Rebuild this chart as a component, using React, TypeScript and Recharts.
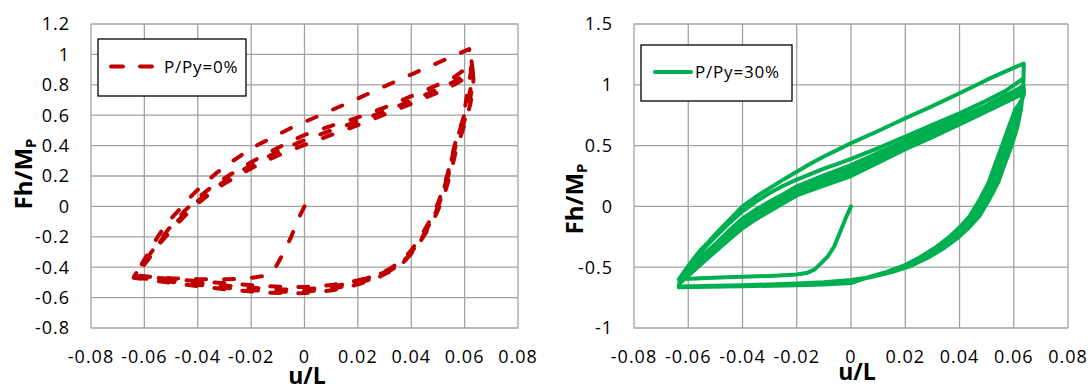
import { LineChart, Line, XAxis, YAxis, CartesianGrid, Customized } from "recharts"

type Pt = [number, number]

// shared horizontal axis (drift ratio u/L)
const uTicks = [-0.08, -0.06, -0.04, -0.02, 0, 0.02, 0.04, 0.06, 0.08]
const p0Ticks = [-0.8, -0.6, -0.4, -0.2, 0, 0.2, 0.4, 0.6, 0.8, 1, 1.2]
const p30Ticks = [-1, -0.5, 0, 0.5, 1, 1.5]

// P/Py = 0% : monotonic push, then four cycles
const p0Initial: Pt[] = [
  [0, 0], [-0.002, -0.07], [-0.005, -0.2], [-0.008, -0.31], [-0.0105, -0.39], [-0.0125, -0.43],
  [-0.016, -0.46], [-0.022, -0.475], [-0.03, -0.48], [-0.04, -0.478], [-0.05, -0.472],
  [-0.058, -0.463], [-0.0635, -0.452],
]
const p0Up1: Pt[] = [
  [-0.0635, -0.452], [-0.061, -0.38], [-0.058, -0.29], [-0.055, -0.2], [-0.052, -0.12], [-0.0495, -0.07],
  [-0.0475, -0.033], [-0.044, 0.04], [-0.04, 0.11], [-0.0365, 0.165], [-0.033, 0.22], [-0.028, 0.285],
  [-0.0226, 0.35], [-0.018, 0.4], [-0.0135, 0.44], [-0.008, 0.49], [-0.004, 0.525], [0, 0.555],
  [0.01, 0.632], [0.02, 0.71], [0.03, 0.79], [0.04, 0.868], [0.05, 0.945], [0.0617, 1.035],
]
const p0Down1: Pt[] = [
  [0.0617, 1.035], [0.0624, 0.96], [0.0623, 0.88], [0.0612, 0.77], [0.0604, 0.68], [0.0597, 0.59],
  [0.0582, 0.5], [0.0563, 0.4], [0.0553, 0.32], [0.0542, 0.24], [0.0525, 0.13], [0.0507, 0.03],
  [0.0485, -0.07], [0.046, -0.15], [0.0435, -0.22], [0.0405, -0.3], [0.037, -0.36], [0.033, -0.41],
  [0.029, -0.44], [0.024, -0.47], [0.018, -0.495], [0.011, -0.515], [0.004, -0.528], [0, -0.53],
  [-0.006, -0.53], [-0.014, -0.525], [-0.022, -0.515], [-0.03, -0.505], [-0.04, -0.492],
  [-0.05, -0.478], [-0.058, -0.467], [-0.0638, -0.458],
]
const p0Up2: Pt[] = [
  [-0.0638, -0.458], [-0.0615, -0.4], [-0.059, -0.34], [-0.0565, -0.28], [-0.054, -0.22], [-0.051, -0.15],
  [-0.048, -0.09], [-0.045, -0.03], [-0.0425, 0.01], [-0.04, 0.055], [-0.035, 0.125], [-0.03, 0.185],
  [-0.025, 0.24], [-0.02, 0.29], [-0.015, 0.34], [-0.01, 0.385], [-0.005, 0.43], [0, 0.47],
  [0.01, 0.53], [0.02, 0.585], [0.03, 0.65], [0.04, 0.725], [0.05, 0.8], [0.056, 0.85], [0.06, 0.9],
  [0.0625, 0.97],
]
const p0Down2: Pt[] = [
  [0.0625, 0.97], [0.063, 0.9], [0.0627, 0.82], [0.0618, 0.74], [0.0607, 0.66], [0.0595, 0.58],
  [0.0578, 0.49], [0.0562, 0.4], [0.055, 0.31], [0.0537, 0.22], [0.052, 0.12], [0.05, 0.02],
  [0.048, -0.06], [0.0455, -0.14], [0.043, -0.21], [0.04, -0.29], [0.0365, -0.355], [0.0325, -0.405],
  [0.028, -0.445], [0.023, -0.475], [0.017, -0.505], [0.01, -0.528], [0.004, -0.54], [0, -0.545],
  [-0.006, -0.547], [-0.014, -0.542], [-0.022, -0.532], [-0.03, -0.52], [-0.04, -0.503],
  [-0.05, -0.487], [-0.058, -0.473], [-0.0638, -0.462],
]
const p0Up3: Pt[] = [
  [-0.0638, -0.462], [-0.0615, -0.41], [-0.059, -0.35], [-0.0565, -0.29], [-0.054, -0.23], [-0.051, -0.165],
  [-0.048, -0.105], [-0.045, -0.05], [-0.0425, -0.01], [-0.04, 0.035], [-0.035, 0.105], [-0.03, 0.165],
  [-0.025, 0.22], [-0.02, 0.27], [-0.015, 0.315], [-0.01, 0.36], [-0.005, 0.4], [0, 0.435],
  [0.01, 0.5], [0.02, 0.56], [0.03, 0.625], [0.04, 0.695], [0.05, 0.77], [0.056, 0.82], [0.06, 0.865],
  [0.0628, 0.93],
]
const p0Down3: Pt[] = [
  [0.0628, 0.93], [0.0632, 0.86], [0.0628, 0.78], [0.062, 0.7], [0.0609, 0.62], [0.0597, 0.55],
  [0.058, 0.47], [0.0565, 0.39], [0.0553, 0.3], [0.054, 0.21], [0.0523, 0.11], [0.0503, 0.01],
  [0.0483, -0.07], [0.0458, -0.15], [0.0432, -0.22], [0.0402, -0.3], [0.0368, -0.365], [0.0328, -0.415],
  [0.0283, -0.455], [0.0232, -0.488], [0.0172, -0.518], [0.01, -0.542], [0.004, -0.555], [0, -0.56],
  [-0.006, -0.562], [-0.014, -0.557], [-0.022, -0.547], [-0.03, -0.535], [-0.04, -0.515],
  [-0.05, -0.496], [-0.058, -0.478], [-0.0638, -0.465],
]
const p0Up4: Pt[] = [
  [-0.0638, -0.465], [-0.0615, -0.415], [-0.059, -0.36], [-0.0565, -0.3], [-0.054, -0.24], [-0.051, -0.18],
  [-0.048, -0.12], [-0.045, -0.065], [-0.0425, -0.025], [-0.04, 0.02], [-0.035, 0.09], [-0.03, 0.15],
  [-0.025, 0.2], [-0.02, 0.25], [-0.015, 0.295], [-0.01, 0.335], [-0.005, 0.37], [0, 0.405],
  [0.01, 0.47], [0.02, 0.535], [0.03, 0.605], [0.04, 0.675], [0.05, 0.75], [0.056, 0.8], [0.06, 0.84],
  [0.063, 0.9],
]
const p0Down4: Pt[] = [
  [0.063, 0.9], [0.0633, 0.83], [0.0629, 0.75], [0.0621, 0.67], [0.061, 0.6], [0.0598, 0.53],
  [0.0583, 0.45], [0.0568, 0.37], [0.0556, 0.28], [0.0543, 0.19], [0.0526, 0.09], [0.0506, 0.0],
  [0.0486, -0.08], [0.046, -0.16], [0.0434, -0.23], [0.0404, -0.305], [0.037, -0.37], [0.033, -0.42],
  [0.0285, -0.46], [0.0235, -0.495], [0.0175, -0.525], [0.0105, -0.552], [0.004, -0.566], [0, -0.57],
  [-0.006, -0.572], [-0.014, -0.567], [-0.022, -0.557], [-0.03, -0.545], [-0.04, -0.525],
  [-0.05, -0.503], [-0.058, -0.484], [-0.064, -0.47],
]

// P/Py = 30% : monotonic push, then seven cycles
const p30Initial: Pt[] = [
  [0, 0], [-0.002, -0.1], [-0.0042, -0.22], [-0.0062, -0.33], [-0.0085, -0.41], [-0.011, -0.466],
  [-0.0135, -0.52], [-0.016, -0.545], [-0.02, -0.56], [-0.028, -0.57], [-0.037, -0.577],
  [-0.046, -0.583], [-0.0554, -0.59], [-0.0635, -0.6],
]
const p30Up1: Pt[] = [
  [-0.0635, -0.6], [-0.061, -0.52], [-0.058, -0.43], [-0.0555, -0.36], [-0.0529, -0.3], [-0.05, -0.23],
  [-0.047, -0.16], [-0.0435, -0.08], [-0.04, 0.0], [-0.035, 0.08], [-0.03, 0.15], [-0.025, 0.22],
  [-0.02, 0.285], [-0.015, 0.35], [-0.01, 0.41], [-0.005, 0.465], [0, 0.52], [0.01, 0.62],
  [0.02, 0.725], [0.03, 0.825], [0.04, 0.93], [0.05, 1.04], [0.057, 1.11], [0.0637, 1.175],
]
const p30Down1: Pt[] = [
  [0.0637, 1.175], [0.0636, 1.06], [0.0634, 0.95], [0.0627, 0.8], [0.0613, 0.65], [0.0592, 0.5],
  [0.0567, 0.35], [0.0543, 0.2], [0.0508, 0.05], [0.0473, -0.08], [0.0432, -0.18], [0.0398, -0.25],
  [0.0345, -0.34], [0.0285, -0.42], [0.022, -0.49], [0.015, -0.54], [0.0078, -0.58], [0, -0.605],
  [-0.01, -0.624], [-0.02, -0.635], [-0.04, -0.648], [-0.0635, -0.658],
]
const p30Up2: Pt[] = [
  [-0.0635, -0.658], [-0.063, -0.6], [-0.06, -0.52], [-0.057, -0.42], [-0.054, -0.34], [-0.05, -0.25],
  [-0.045, -0.14], [-0.04, -0.04], [-0.035, 0.04], [-0.03, 0.11], [-0.025, 0.17], [-0.02, 0.22],
  [-0.015, 0.265], [-0.01, 0.31], [-0.005, 0.35], [0, 0.39], [0.01, 0.48], [0.02, 0.575],
  [0.03, 0.67], [0.04, 0.765], [0.05, 0.87], [0.057, 0.95], [0.0634, 1.05],
]
const p30Down2: Pt[] = [
  [0.0634, 1.05], [0.0636, 0.98], [0.0632, 0.9], [0.0623, 0.8], [0.0608, 0.65], [0.0586, 0.5],
  [0.0561, 0.35], [0.0537, 0.2], [0.0502, 0.05], [0.0467, -0.08], [0.0426, -0.18], [0.0392, -0.25],
  [0.0339, -0.34], [0.028, -0.42], [0.0215, -0.49], [0.0146, -0.54], [0.0076, -0.58], [0, -0.61],
  [-0.01, -0.627], [-0.02, -0.637], [-0.04, -0.65], [-0.0635, -0.659],
]
const p30Up3: Pt[] = [
  [-0.0635, -0.659], [-0.063, -0.61], [-0.06, -0.53], [-0.055, -0.41], [-0.05, -0.31], [-0.045, -0.2],
  [-0.04, -0.1], [-0.035, -0.025], [-0.03, 0.04], [-0.025, 0.1], [-0.02, 0.165], [-0.01, 0.255],
  [0, 0.34], [0.01, 0.44], [0.02, 0.54], [0.03, 0.64], [0.04, 0.73], [0.05, 0.83], [0.0636, 0.99],
]
const p30Down3: Pt[] = [
  [0.0636, 0.99], [0.0634, 0.92], [0.062, 0.8], [0.0602, 0.65], [0.058, 0.5], [0.0555, 0.35],
  [0.0531, 0.2], [0.0496, 0.05], [0.0461, -0.08], [0.042, -0.18], [0.0386, -0.25], [0.0333, -0.34],
  [0.0274, -0.42], [0.021, -0.49], [0.0143, -0.54], [0.0074, -0.58], [0, -0.614], [-0.01, -0.63],
  [-0.02, -0.64], [-0.04, -0.651], [-0.0635, -0.66],
]
const p30Up4: Pt[] = [
  [-0.0635, -0.66], [-0.063, -0.615], [-0.06, -0.54], [-0.055, -0.425], [-0.05, -0.325], [-0.045, -0.22],
  [-0.04, -0.12], [-0.035, -0.045], [-0.03, 0.02], [-0.025, 0.08], [-0.02, 0.145], [-0.01, 0.23],
  [0, 0.315], [0.01, 0.42], [0.02, 0.52], [0.03, 0.62], [0.04, 0.715], [0.05, 0.815], [0.0637, 0.97],
]
const p30Down4: Pt[] = [
  [0.0637, 0.97], [0.0633, 0.9], [0.0616, 0.8], [0.0597, 0.65], [0.0574, 0.5], [0.0549, 0.35],
  [0.0525, 0.2], [0.049, 0.05], [0.0455, -0.08], [0.0414, -0.18], [0.038, -0.25], [0.0327, -0.34],
  [0.0269, -0.42], [0.0206, -0.49], [0.0139, -0.54], [0.0073, -0.58], [0, -0.618], [-0.01, -0.633],
  [-0.02, -0.642], [-0.04, -0.653], [-0.0635, -0.661],
]
const p30Up5: Pt[] = [
  [-0.0635, -0.661], [-0.063, -0.62], [-0.06, -0.55], [-0.055, -0.44], [-0.05, -0.34], [-0.045, -0.24],
  [-0.04, -0.14], [-0.035, -0.065], [-0.03, 0.0], [-0.025, 0.06], [-0.02, 0.125], [-0.01, 0.21],
  [0, 0.29], [0.01, 0.395], [0.02, 0.5], [0.03, 0.6], [0.04, 0.7], [0.05, 0.8], [0.0638, 0.955],
]
const p30Down5: Pt[] = [
  [0.0638, 0.955], [0.0632, 0.89], [0.0613, 0.8], [0.0591, 0.65], [0.0568, 0.5], [0.0543, 0.35],
  [0.0519, 0.2], [0.0484, 0.05], [0.0449, -0.08], [0.0408, -0.18], [0.0374, -0.25], [0.0321, -0.34],
  [0.0263, -0.42], [0.0201, -0.49], [0.0136, -0.54], [0.0071, -0.58], [0, -0.622], [-0.01, -0.636],
  [-0.02, -0.644], [-0.04, -0.654], [-0.0635, -0.662],
]
const p30Up6: Pt[] = [
  [-0.0635, -0.662], [-0.063, -0.625], [-0.06, -0.56], [-0.055, -0.455], [-0.05, -0.355], [-0.045, -0.26],
  [-0.04, -0.16], [-0.035, -0.085], [-0.03, -0.02], [-0.025, 0.045], [-0.02, 0.11], [-0.01, 0.19],
  [0, 0.27], [0.01, 0.38], [0.02, 0.485], [0.03, 0.585], [0.04, 0.69], [0.05, 0.79], [0.0638, 0.94],
]
const p30Down6: Pt[] = [
  [0.0638, 0.94], [0.0631, 0.88], [0.0609, 0.8], [0.0586, 0.65], [0.0562, 0.5], [0.0537, 0.35],
  [0.0513, 0.2], [0.0478, 0.05], [0.0443, -0.08], [0.0402, -0.18], [0.0368, -0.25], [0.0315, -0.34],
  [0.0258, -0.42], [0.0196, -0.49], [0.0132, -0.54], [0.0069, -0.58], [0, -0.626], [-0.01, -0.639],
  [-0.02, -0.646], [-0.04, -0.656], [-0.0635, -0.663],
]
const p30Up7: Pt[] = [
  [-0.0635, -0.663], [-0.063, -0.63], [-0.06, -0.57], [-0.055, -0.47], [-0.05, -0.37], [-0.045, -0.275],
  [-0.04, -0.18], [-0.035, -0.105], [-0.03, -0.04], [-0.025, 0.025], [-0.02, 0.09], [-0.01, 0.17],
  [0, 0.25], [0.01, 0.36], [0.02, 0.47], [0.03, 0.57], [0.04, 0.675], [0.05, 0.78], [0.0638, 0.93],
]
const p30Down7: Pt[] = [
  [0.0638, 0.93], [0.063, 0.87], [0.0606, 0.8], [0.0581, 0.65], [0.0557, 0.5], [0.0532, 0.35],
  [0.0508, 0.2], [0.0473, 0.05], [0.0438, -0.08], [0.0397, -0.18], [0.0363, -0.25], [0.031, -0.34],
  [0.0253, -0.42], [0.0192, -0.49], [0.0129, -0.54], [0.0068, -0.58], [0, -0.63], [-0.01, -0.642],
  [-0.02, -0.648], [-0.04, -0.657], [-0.0635, -0.664],
]

const toRows = (...branches: Pt[][]) => branches.flat().map(([u, f]) => ({ u, f }))

const p0Rows = toRows(p0Initial, p0Up1, p0Down1, p0Up2, p0Down2, p0Up3, p0Down3, p0Up4, p0Down4)
const p30Rows = toRows(
  p30Initial, p30Up1, p30Down1, p30Up2, p30Down2, p30Up3, p30Down3,
  p30Up4, p30Down4, p30Up5, p30Down5, p30Up6, p30Down6, p30Up7, p30Down7,
)

const RED = "#C00000"
const GREEN = "#00B050"
const GRID = "#a2a2a2"
const FONT = "'Open Sans', sans-serif"
const tickStyle = { fontSize: 18, fill: "#000", fontFamily: FONT, letterSpacing: 1 }

interface LegendBox {
  x: number
  y: number
  w: number
  h: number
  x1: number
  x2: number
  textX: number
}

interface PanelProps {
  rows: { u: number; f: number }[]
  yTicks: number[]
  color: string
  dash?: string
  name: string
  plotLeft: number
  plotRight: number
  legend: LegendBox
  yTitleX: number
  yTitleY: number
  xTitleX: number
  xTitleY: number
}

function Panel(p: PanelProps) {
  const { legend } = p
  const lineY = legend.y + legend.h / 2 - 1
  return (
    <LineChart
      width={545}
      height={390}
      data={p.rows}
      margin={{ top: 24, right: 545 - p.plotRight, bottom: 0, left: 0 }}
    >
      <CartesianGrid stroke={GRID} strokeWidth={1.3} />
      <XAxis
        type="number"
        dataKey="u"
        domain={[-0.08, 0.08]}
        ticks={uTicks}
        interval={0}
        height={62}
        axisLine={false}
        tickLine={false}
        tickSize={0}
        tickMargin={22}
        tick={tickStyle}
      />
      <YAxis
        type="number"
        domain={[p.yTicks[0], p.yTicks[p.yTicks.length - 1]]}
        ticks={p.yTicks}
        interval={0}
        width={p.plotLeft}
        axisLine={false}
        tickLine={false}
        tickSize={0}
        tickMargin={21}
        tick={tickStyle}
      />
      <Line
        type="linear"
        dataKey="f"
        name={p.name}
        stroke={p.color}
        strokeWidth={4}
        strokeDasharray={p.dash}
        strokeLinecap="round"
        strokeLinejoin="round"
        dot={false}
        activeDot={false}
        isAnimationActive={false}
      />
      <Customized
        component={() => (
          <g fontFamily={FONT}>
            <rect x={legend.x} y={legend.y} width={legend.w} height={legend.h} fill="#fff" stroke="#000" strokeWidth={1.3} />
            <line
              x1={legend.x1}
              x2={legend.x2}
              y1={lineY}
              y2={lineY}
              stroke={p.color}
              strokeWidth={4}
              strokeDasharray={p.dash ? "12 17" : undefined}
              strokeLinecap="round"
            />
            <text x={legend.textX} y={lineY + 6} fontSize={17} fill="#000" letterSpacing={0.8}>
              {p.name}
            </text>
            <text x={p.xTitleX} y={p.xTitleY} textAnchor="middle" fontSize={23} fontWeight="bold" fill="#000">
              u/L
            </text>
            <text
              transform="rotate(-90)"
              x={-p.yTitleY}
              y={p.yTitleX}
              textAnchor="middle"
              fontSize={24}
              fontWeight="bold"
              fill="#000"
            >
              Fh/M
              <tspan fontSize={15} dy={4}>
                P
              </tspan>
            </text>
          </g>
        )}
      />
    </LineChart>
  )
}

export default function App() {
  return (
    <div style={{ position: "absolute", left: 0, top: 0, width: 1090, height: 390, background: "#fff" }}>
      <div style={{ position: "absolute", left: 0, top: 0 }}>
        <Panel
          rows={p0Rows}
          yTicks={p0Ticks}
          color={RED}
          dash="10 18"
          name="P/Py=0%"
          plotLeft={91}
          plotRight={518}
          legend={{ x: 98, y: 39, w: 148, h: 57, x1: 111, x2: 152, textX: 164 }}
          yTitleX={32}
          yTitleY={174}
          xTitleX={307}
          xTitleY={384}
        />
      </div>
      <div style={{ position: "absolute", left: 545, top: 0 }}>
        <Panel
          rows={p30Rows}
          yTicks={p30Ticks}
          color={GREEN}
          name="P/Py=30%"
          plotLeft={89}
          plotRight={523}
          legend={{ x: 96, y: 45, w: 151, h: 56, x1: 110, x2: 146, textX: 150 }}
          yTitleX={38}
          yTitleY={199}
          xTitleX={312}
          xTitleY={380}
        />
      </div>
    </div>
  )
}
